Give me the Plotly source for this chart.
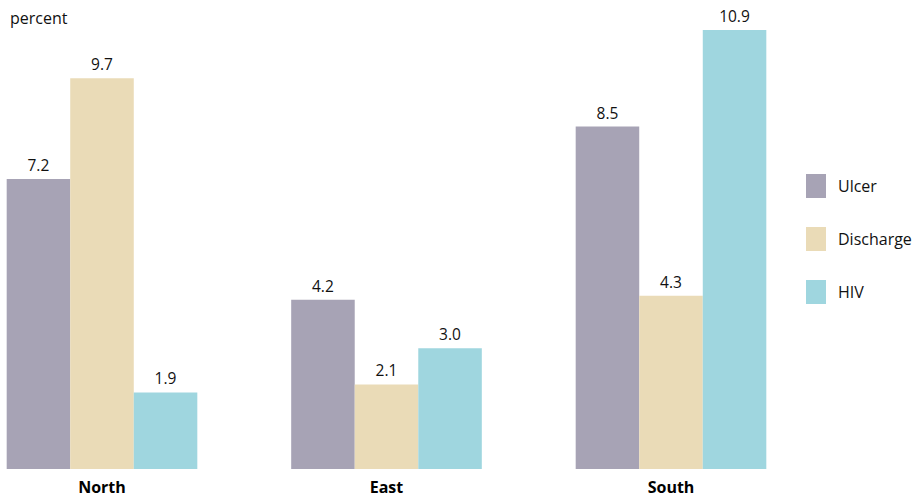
import plotly.graph_objects as go

# Regions and series values (percent)
regions = ["North", "East", "South"]
series_names = ["Ulcer", "Discharge", "HIV"]
ulcer = [7.2, 4.2, 8.5]
discharge = [9.7, 2.1, 4.3]
hiv = [1.9, 3.0, 10.9]
colors = ["#A7A3B5", "#EADBB7", "#9FD6DF"]

W, H = 918, 497
L, R, T, B = 0, 138, 20, 28
plot_w = W - L - R
plot_h = H - T - B

FONT = "Open Sans, Noto Sans, sans-serif"

fig = go.Figure()
for name, vals, col in zip(series_names, [ulcer, discharge, hiv], colors):
    fig.add_trace(go.Bar(
        x=regions, y=vals, name=name,
        marker=dict(color=col, line=dict(width=0)),
        texttemplate="%{y:.1f}", textposition="outside",
        textfont=dict(size=15.5, color="#111111", family=FONT),
        cliponaxis=False,
        hoverinfo="x+y+name",
    ))

# category spacing in pixels and left offset of the first group centre
step_px = 284.5
first_center_px = 102
x0 = -first_center_px / step_px
x1 = x0 + plot_w / step_px

px_per_unit = 40.28
y_top = plot_h / px_per_unit


def px_to_paper(px, py):
    return (px - L) / plot_w, (H - B - py) / plot_h


# hand-built legend with large colour swatches
shapes = []
annotations = []
for i, (name, col) in enumerate(zip(series_names, colors)):
    cy = 186 + i * 53
    xa, ya = px_to_paper(806, cy + 12)
    xb, yb = px_to_paper(826, cy - 12)
    shapes.append(dict(type="rect", xref="paper", yref="paper",
                       x0=xa, y0=ya, x1=xb, y1=yb,
                       fillcolor=col, line=dict(width=0)))
    tx, ty = px_to_paper(836, cy)
    annotations.append(dict(text=name, xref="paper", yref="paper",
                            x=tx, y=ty, xanchor="left", yanchor="middle",
                            showarrow=False,
                            font=dict(size=16, color="#111111", family=FONT)))

annotations.append(dict(text="percent", xref="paper", yref="paper",
                        x=px_to_paper(8, 0)[0], y=px_to_paper(0, 18)[1],
                        xanchor="left", yanchor="middle", showarrow=False,
                        font=dict(size=16, color="#111111", family=FONT)))

fig.update_layout(
    width=W, height=H,
    margin=dict(l=L, r=R, t=T, b=B),
    paper_bgcolor="white", plot_bgcolor="white",
    barmode="group", bargap=0.33, bargroupgap=0,
    showlegend=False,
    shapes=shapes, annotations=annotations,
    font=dict(family=FONT, color="#111111"),
    xaxis=dict(range=[x0, x1], showgrid=False, zeroline=False, showline=False,
               ticks="", ticklabelstandoff=7,
               tickfont=dict(size=16, color="#000000", family=FONT),
               tickvals=regions,
               ticktext=["<b>%s</b>" % r for r in regions]),
    yaxis=dict(range=[0, y_top], showgrid=False, zeroline=False,
               showline=False, showticklabels=False, ticks=""),
)

fig.write_html("out.html")
